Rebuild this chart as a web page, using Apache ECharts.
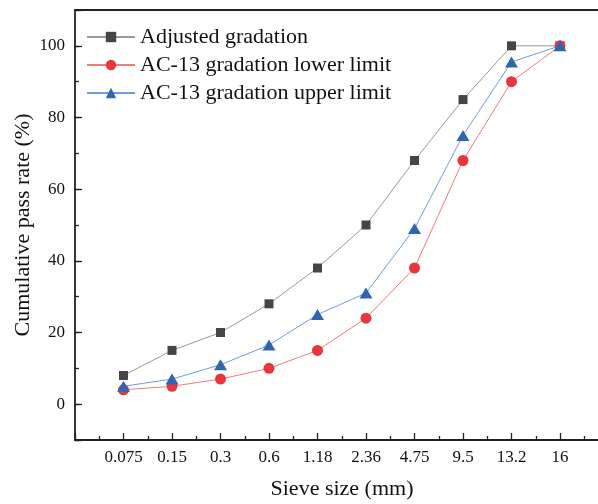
<!DOCTYPE html>
<html>
<head>
<meta charset="utf-8">
<title>Gradation curves</title>
<script src="https://cdn.jsdelivr.net/npm/echarts@6/dist/echarts.min.js"></script>
<style>
  html, body { margin: 0; padding: 0; background: #fff; }
  #chart { width: 598px; height: 504px; }
</style>
</head>
<body>
<div id="chart"></div>
<script>
  // sieve sizes (mm), one per x position 1..10
  var sieveSizes = ['0.075', '0.15', '0.3', '0.6', '1.18', '2.36', '4.75', '9.5', '13.2', '16'];
  // cumulative pass rate (%)
  var adjusted = [8, 15, 20, 28, 38, 50, 68, 85, 100, 100];
  var lowerLimit = [4, 5, 7, 10, 15, 24, 38, 68, 90, 100];
  var upperLimit = [5, 7, 11, 16.5, 25, 31, 49, 75, 95.5, 100];

  var font = 'Liberation Serif, Times New Roman, serif';

  function toPoints(arr) {
    return arr.map(function (v, i) { return [i + 1, v]; });
  }

  var chart = echarts.init(document.getElementById('chart'));
  chart.setOption({
    backgroundColor: '#fff',
    animation: false,
    // plot runs past the right edge of the picture, like the original
    grid: { left: 75, right: -59, top: 10, bottom: 64, outerBoundsMode: 'none', containLabel: false },
    legend: {
      orient: 'vertical',
      left: 81,
      top: 21,
      itemWidth: 48,
      itemHeight: 13,
      itemGap: 6,
      textStyle: { fontFamily: font, fontSize: 22, color: '#111' },
      data: ['Adjusted gradation', 'AC-13 gradation lower limit', 'AC-13 gradation upper limit']
    },
    xAxis: [
      {
        type: 'value',
        min: 0,
        max: 12,
        interval: 1,
        axisLine: { onZero: false, lineStyle: { color: '#222', width: 1.8 } },
        axisTick: { inside: true, length: 7, lineStyle: { color: '#222', width: 1.3 } },
        minorTick: { show: true, splitNumber: 2, length: 4, lineStyle: { color: '#222', width: 1.3 } },
        splitLine: { show: false },
        axisLabel: {
          margin: 9,
          fontFamily: font,
          fontSize: 17,
          color: '#111',
          formatter: function (v) {
            return (v >= 1 && v <= sieveSizes.length) ? sieveSizes[v - 1] : '';
          }
        }
      },
      {
        // top frame line
        type: 'value',
        position: 'top',
        min: 0,
        max: 12,
        interval: 1,
        axisLine: { show: true, onZero: false, lineStyle: { color: '#222', width: 1.8 } },
        axisTick: { show: false },
        axisLabel: { show: false },
        splitLine: { show: false }
      }
    ],
    yAxis: [
      {
        type: 'value',
        min: -10,
        max: 110,
        splitNumber: 6,
        name: 'Cumulative pass rate (%)',
        nameLocation: 'middle',
        nameGap: 41,
        nameMoveOverlap: false,
        nameTextStyle: { fontFamily: font, fontSize: 22, color: '#111' },
        axisLine: { show: true, onZero: false, lineStyle: { color: '#222', width: 1.8 } },
        axisTick: { inside: true, length: 7, lineStyle: { color: '#222', width: 1.3 } },
        splitLine: { show: false },
        axisLabel: {
          margin: 10,
          fontFamily: font,
          fontSize: 17,
          color: '#111',
          formatter: function (v) {
            return (v >= 0 && v <= 100 && v % 20 === 0) ? String(v) : '';
          }
        }
      },
      {
        // minor ticks every 10
        type: 'value',
        position: 'left',
        min: -10,
        max: 110,
        interval: 10,
        axisLine: { show: false, onZero: false },
        axisTick: { show: true, inside: true, length: 4, lineStyle: { color: '#222', width: 1.3 } },
        axisLabel: { show: false },
        splitLine: { show: false }
      }
    ],
    graphic: [
      {
        type: 'text',
        x: 342,
        y: 489,
        style: {
          text: 'Sieve size (mm)',
          fontFamily: font,
          fontSize: 22,
          fill: '#111',
          textAlign: 'center',
          textVerticalAlign: 'middle'
        }
      }
    ],
    series: [
      {
        name: 'Adjusted gradation',
        type: 'line',
        data: toPoints(adjusted),
        symbol: 'rect',
        symbolSize: 9,
        lineStyle: { color: '#999', width: 1 },
        itemStyle: { color: '#454545' }
      },
      {
        name: 'AC-13 gradation lower limit',
        type: 'line',
        data: toPoints(lowerLimit),
        symbol: 'circle',
        symbolSize: 11,
        lineStyle: { color: '#ef7b7c', width: 1 },
        itemStyle: { color: '#e8363b' }
      },
      {
        name: 'AC-13 gradation upper limit',
        type: 'line',
        data: toPoints(upperLimit),
        symbol: 'triangle',
        symbolSize: [13, 11],
        lineStyle: { color: '#6d9fdf', width: 1 },
        itemStyle: { color: '#2f66b3' }
      }
    ]
  });
</script>
</body>
</html>
